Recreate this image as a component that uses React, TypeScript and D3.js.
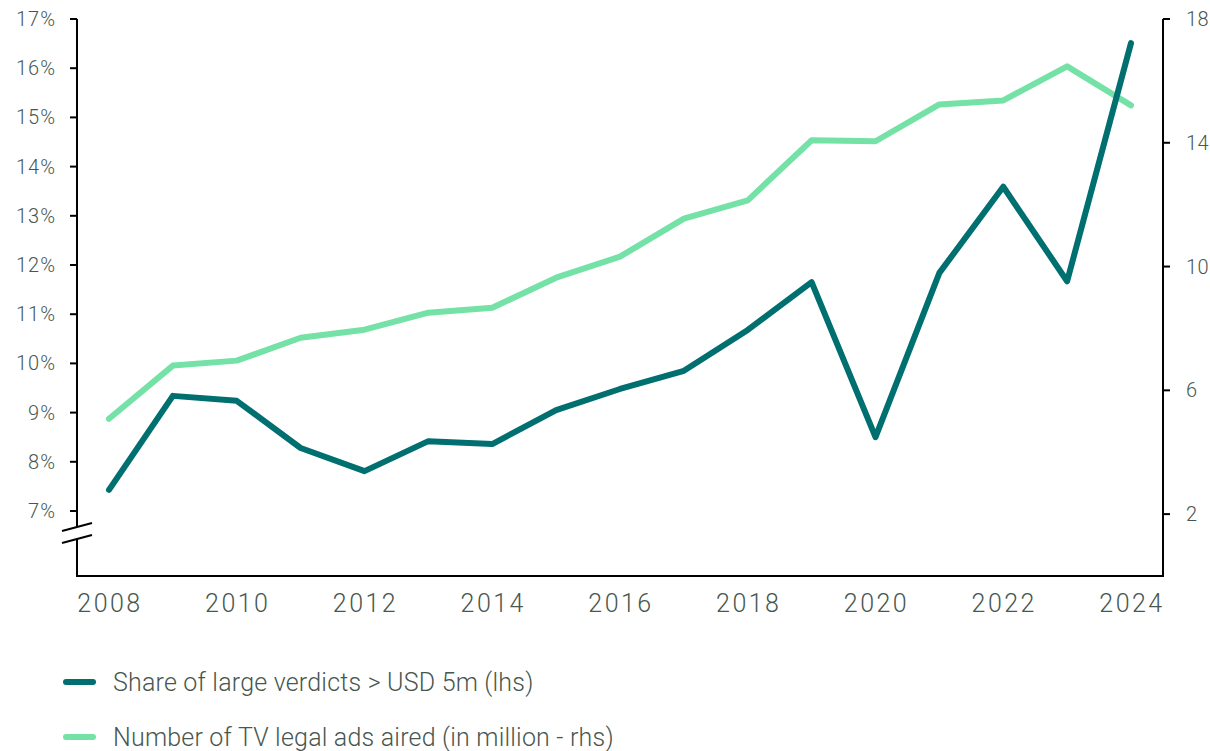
import React, { useRef, useEffect } from "react";
import * as d3 from "d3";

// x categories
const years = [2008, 2009, 2010, 2011, 2012, 2013, 2014, 2015, 2016, 2017, 2018, 2019, 2020, 2021, 2022, 2023, 2024];
// share of large verdicts > USD 5m, % (lhs)
const verdictShare = [7.43, 9.34, 9.24, 8.28, 7.81, 8.42, 8.36, 9.05, 9.48, 9.85, 10.68, 11.65, 8.5, 11.84, 13.59, 11.67, 16.51];
// number of TV legal ads aired, millions (rhs)
const tvAds = [5.08, 6.8, 6.96, 7.7, 7.96, 8.51, 8.67, 9.64, 10.32, 11.55, 12.14, 14.08, 14.05, 15.24, 15.37, 16.47, 15.21];

const leftTicks = [7, 8, 9, 10, 11, 12, 13, 14, 15, 16, 17];
const rightTicks = [2, 6, 10, 14, 18];
const xTicks = [2008, 2010, 2012, 2014, 2016, 2018, 2020, 2022, 2024];

const seriesNames = ["Share of large verdicts > USD 5m (lhs)", "Number of TV legal ads aired (in million - rhs)"];
const seriesColors = ["#006f6f", "#74e1a6"];

export default function App() {
  const ref = useRef<SVGSVGElement | null>(null);

  useEffect(() => {
    const svg = d3.select(ref.current);
    svg.selectAll("*").remove();

    const W = 1210, H = 751;
    const left = 77, right = 1163, top = 19, bottom = 576;
    const font = "Roboto, 'Open Sans', sans-serif";
    const textColor = "#47574f";

    const x = d3.scaleLinear().domain([2008, 2024]).range([109, 1131]);
    const yL = d3.scaleLinear().domain([7, 17]).range([511, top]);
    const yR = d3.scaleLinear().domain([0, 18]).range([bottom, top]);

    svg.attr("width", W).attr("height", H);

    // left axis with break
    const breakTop = 527, breakBot = 539;
    svg.append("line").attr("x1", left).attr("x2", left).attr("y1", top).attr("y2", breakTop)
      .attr("stroke", "#000").attr("stroke-width", 2);
    svg.append("line").attr("x1", left).attr("x2", left).attr("y1", breakBot).attr("y2", bottom + 1)
      .attr("stroke", "#000").attr("stroke-width", 2);
    [[531, 523], [543, 535]].forEach(([y1, y2]) => {
      svg.append("line").attr("x1", 62).attr("x2", 92).attr("y1", y1).attr("y2", y2)
        .attr("stroke", "#000").attr("stroke-width", 2);
    });

    const lg = svg.append("g");
    leftTicks.forEach((t) => {
      lg.append("line").attr("x1", left - 7).attr("x2", left).attr("y1", yL(t)).attr("y2", yL(t))
        .attr("stroke", "#000").attr("stroke-width", 2);
      lg.append("text").attr("x", 56).attr("y", yL(t)).attr("text-anchor", "end")
        .attr("dominant-baseline", "central").attr("font-family", font).attr("font-weight", 300)
        .attr("font-size", 20).attr("letter-spacing", 1).attr("fill", textColor).text(`${t}%`);
    });

    // right axis
    svg.append("line").attr("x1", right).attr("x2", right).attr("y1", top).attr("y2", bottom + 1)
      .attr("stroke", "#000").attr("stroke-width", 2);
    rightTicks.forEach((t) => {
      svg.append("line").attr("x1", right).attr("x2", right + 7).attr("y1", yR(t)).attr("y2", yR(t))
        .attr("stroke", "#000").attr("stroke-width", 2);
      svg.append("text").attr("x", 1186).attr("y", yR(t)).attr("text-anchor", "start")
        .attr("dominant-baseline", "central").attr("font-family", font).attr("font-weight", 300)
        .attr("font-size", 20).attr("letter-spacing", 0.5).attr("fill", textColor).text(t);
    });

    // x axis
    svg.append("line").attr("x1", left - 1).attr("x2", right + 1).attr("y1", bottom).attr("y2", bottom)
      .attr("stroke", "#000").attr("stroke-width", 2);
    xTicks.forEach((t) => {
      svg.append("text").attr("x", x(t) + 1).attr("y", 612).attr("text-anchor", "middle")
        .attr("font-family", font).attr("font-weight", 300).attr("font-size", 25)
        .attr("letter-spacing", 2.5).attr("fill", textColor).text(t);
    });

    // series
    const lineL = d3.line<number>().x((_d, i) => x(years[i])).y((d) => yL(d));
    const lineR = d3.line<number>().x((_d, i) => x(years[i])).y((d) => yR(d));

    svg.append("path").datum(tvAds).attr("d", lineR).attr("fill", "none")
      .attr("stroke", seriesColors[1]).attr("stroke-width", 6)
      .attr("stroke-linejoin", "round").attr("stroke-linecap", "round");
    svg.append("path").datum(verdictShare).attr("d", lineL).attr("fill", "none")
      .attr("stroke", seriesColors[0]).attr("stroke-width", 6)
      .attr("stroke-linejoin", "round").attr("stroke-linecap", "round");

    // legend
    const legY = [682, 737];
    seriesNames.forEach((name, i) => {
      svg.append("line").attr("x1", 66).attr("x2", 93).attr("y1", legY[i]).attr("y2", legY[i])
        .attr("stroke", seriesColors[i]).attr("stroke-width", 6).attr("stroke-linecap", "round");
      svg.append("text").attr("x", 113).attr("y", legY[i]).attr("dominant-baseline", "central")
        .attr("font-family", font).attr("font-weight", 300).attr("font-size", 25)
        .attr("letter-spacing", 0.2).attr("fill", textColor).text(name);
    });
  }, []);

  return <svg ref={ref} style={{ position: "absolute", left: 0, top: 0, background: "#fff" }} />;
}
